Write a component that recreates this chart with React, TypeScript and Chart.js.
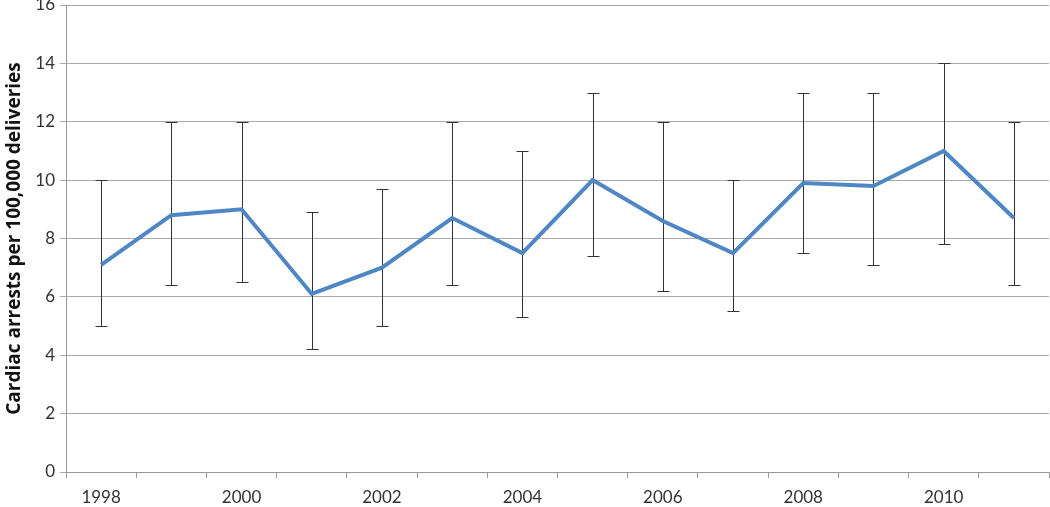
import React, { useEffect, useRef } from "react";
import { Chart, registerables } from "chart.js";

Chart.register(...registerables);

const years = ["1998","1999","2000","2001","2002","2003","2004","2005","2006","2007","2008","2009","2010","2011"];
const rates = [7.1, 8.8, 9.0, 6.1, 7.0, 8.7, 7.5, 10.0, 8.6, 7.5, 9.9, 9.8, 11.0, 8.7];
const lowerCI = [5.0, 6.4, 6.5, 4.2, 5.0, 6.4, 5.3, 7.4, 6.2, 5.5, 7.5, 7.1, 7.8, 6.4];
const upperCI = [10.0, 12.0, 12.0, 8.9, 9.7, 12.0, 11.0, 13.0, 12.0, 10.0, 13.0, 13.0, 14.0, 12.0];
const shownYears = ["1998","2000","2002","2004","2006","2008","2010"];

const errorBarPlugin = {
  id: "errorBars",
  beforeDatasetsDraw(chart: any) {
    const ctx = chart.ctx;
    const xs = chart.scales.x;
    const ys = chart.scales.y;
    ctx.save();
    ctx.strokeStyle = "#333333";
    ctx.lineWidth = 1;
    const cap = 6;
    for (let i = 0; i < years.length; i++) {
      const x = Math.round(xs.getPixelForValue(i)) + 0.5;
      const yl = Math.round(ys.getPixelForValue(lowerCI[i])) + 0.5;
      const yu = Math.round(ys.getPixelForValue(upperCI[i])) + 0.5;
      ctx.beginPath();
      ctx.moveTo(x, yl);
      ctx.lineTo(x, yu);
      ctx.moveTo(x - cap, yl);
      ctx.lineTo(x + cap, yl);
      ctx.moveTo(x - cap, yu);
      ctx.lineTo(x + cap, yu);
      ctx.stroke();
    }
    ctx.restore();
  },
};

export default function App() {
  const ref = useRef<HTMLCanvasElement>(null);
  useEffect(() => {
    document.body.style.margin = "0";
    const chart = new Chart(ref.current!, {
      type: "line",
      data: {
        labels: years,
        datasets: [
          {
            data: rates,
            borderColor: "#4F86C6",
            borderWidth: 4,
            pointRadius: 0,
            tension: 0,
            fill: false,
          },
        ],
      },
      options: {
        animation: false,
        responsive: false,
        maintainAspectRatio: false,
        layout: { padding: { top: 5, right: 1, left: 0, bottom: 0 } },
        plugins: { legend: { display: false }, tooltip: { enabled: false } },
        scales: {
          x: {
            type: "category",
            offset: true,
            grid: {
              offset: true,
              drawOnChartArea: false,
              drawTicks: true,
              tickLength: 6,
              color: "#999999",
            },
            border: { color: "#999999", width: 1 },
            ticks: {
              autoSkip: false,
              maxRotation: 0,
              padding: 9,
              color: "#333333",
              font: { family: "Lato", size: 17 },
              callback: (v: any, i: number) => (shownYears.includes(years[i]) ? years[i] : ""),
            },
            afterFit: (s: any) => { s.height = 35; s.paddingLeft = 0; s.paddingRight = 0; },
          },
          y: {
            min: 0,
            max: 16,
            ticks: {
              stepSize: 2,
              padding: 5,
              color: "#333333",
              font: { family: "Lato", size: 17 },
            },
            grid: { color: "#aaaaaa", lineWidth: 1, tickLength: 6 },
            border: { color: "#999999", width: 1 },
            title: {
              display: true,
              text: "Cardiac arrests per 100,000 deliveries",
              color: "#111111",
              font: { family: "Open Sans", size: 19, weight: "bold" },
              padding: { top: 3, bottom: 4 },
            },
            afterFit: (s: any) => { s.width = 66; s.paddingTop = 0; s.paddingBottom = 0; },
          },
        },
      },
      plugins: [errorBarPlugin],
    });
    return () => chart.destroy();
  }, []);
  return (
    <div style={{ width: 1050, height: 507 }}>
      <canvas ref={ref} width={1050} height={507} style={{ display: "block" }} />
    </div>
  );
}
